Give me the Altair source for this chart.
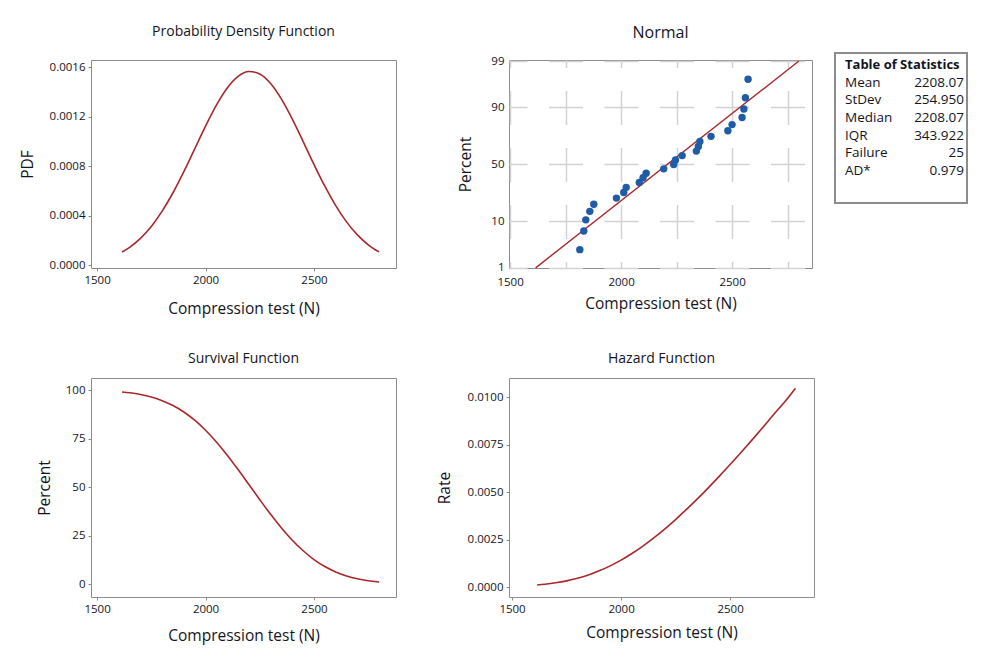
import altair as alt
import pandas as pd
from statistics import NormalDist

# ---------------- data ----------------
x_curve = [1615, 1650, 1700, 1750, 1800, 1850, 1900, 1950, 2000, 2050, 2100, 2150, 2200,
           2250, 2300, 2350, 2400, 2450, 2500, 2550, 2600, 2650, 2700, 2750, 2800]
pdf_vals = [0.0001046, 0.0001427, 0.0002150, 0.0003117, 0.0004349, 0.0005839, 0.0007543,
            0.0009377, 0.0011218, 0.0012913, 0.0014304, 0.0015248, 0.0015640, 0.0015438,
            0.0014663, 0.0013401, 0.0011786, 0.0009975, 0.0008124, 0.0006366, 0.0004801,
            0.0003484, 0.0002433, 0.0001635, 0.0001057]
surv_vals = [99.0, 98.57, 97.68, 96.38, 94.52, 91.99, 88.65, 84.42, 79.27, 73.23, 66.41,
             59.00, 51.26, 43.47, 35.92, 28.89, 22.58, 17.13, 12.61, 8.99, 6.21, 4.15,
             2.68, 1.68, 1.01]
hazard_vals = [0.000106, 0.000145, 0.000220, 0.000323, 0.000460, 0.000635, 0.000851,
               0.001111, 0.001415, 0.001763, 0.002154, 0.002584, 0.003051, 0.003551,
               0.004082, 0.004639, 0.005220, 0.005823, 0.006443, 0.007081, 0.007731,
               0.008395, 0.009078, 0.009732, 0.010465]

obs_x = [1814, 1832, 1841, 1859, 1877, 1979, 2012, 2023, 2082, 2099, 2113, 2192, 2237,
         2245, 2275, 2339, 2348, 2355, 2405, 2481, 2500, 2545, 2553, 2560, 2572]
obs_pct = [2.76, 6.69, 10.63, 14.57, 18.50, 22.44, 26.38, 30.31, 34.25, 38.19, 42.13,
           46.06, 50.00, 53.94, 57.87, 61.81, 65.75, 69.69, 73.62, 77.56, 81.50, 85.43,
           89.37, 93.31, 97.24]
fit_x = [1615, 2801]
fit_pct = [1, 99]

prob_ticks = [1, 10, 50, 90, 99]
x_ticks = [1500, 2000, 2500]
x_grid = [1500, 1750, 2000, 2250, 2500, 2750]
pdf_ticks = [0.0, 0.0004, 0.0008, 0.0012, 0.0016]
surv_ticks = [0, 25, 50, 75, 100]
haz_ticks = [0.0, 0.0025, 0.0050, 0.0075, 0.0100]

stat_title = ["Table of Statistics"]
stat_names = ["Mean", "StDev", "Median", "IQR", "Failure", "AD*"]
stat_values = ["2208.07", "254.950", "2208.07", "343.922", "25", "0.979"]

# ---------------- styling ----------------
RED = "#a8282b"
BLUE = "#1f5ca8"
FRAME = "#8c8c8c"
TXT = "#14141e"
XTITLE = "Compression test (N)"

curve_df = pd.DataFrame({"x": x_curve, "pdf": pdf_vals, "surv": surv_vals, "haz": hazard_vals})
obs_df = pd.DataFrame({"x": obs_x, "pct": obs_pct})
fit_df = pd.DataFrame({"x": fit_x, "pct": fit_pct})
title_df = pd.DataFrame({"row": [0], "t": stat_title})
stat_df = pd.DataFrame({"row": list(range(1, len(stat_names) + 1)), "name": stat_names, "val": stat_values})

z_ticks = [NormalDist().inv_cdf(p / 100) for p in prob_ticks]


def xaxis(title_y):
    return alt.Axis(values=x_ticks, format="d", title=XTITLE, titleY=title_y,
                    titleBaseline="middle", labelPadding=3)


def panel_title(text, size, offset):
    return alt.TitleParams(text=text, fontSize=size, offset=offset, frame="group",
                           anchor="middle", fontWeight="normal", color=TXT)


# PDF panel
pdf_chart = alt.Chart(curve_df).mark_line(color=RED, strokeWidth=1.6, interpolate="monotone").encode(
    x=alt.X("x:Q", scale=alt.Scale(domain=[1472, 2878], nice=False, zero=False), axis=xaxis(40)),
    y=alt.Y("pdf:Q", scale=alt.Scale(domain=[-0.0000242, 0.0016566], nice=False, zero=False),
            axis=alt.Axis(values=pdf_ticks, format=".4f", title="PDF", titleX=-64,
                          titleBaseline="middle", labelPadding=3)),
).properties(width=305, height=208, title=panel_title("Probability Density Function", 14, 21))

# Normal probability plot panel
xn = alt.X("x:Q", scale=alt.Scale(domain=[1495, 2860], nice=False, zero=False),
           axis=alt.Axis(values=x_grid,
                         labelExpr="datum.value % 500 == 0 ? format(datum.value, 'd') : ''",
                         ticks=False, labelPadding=8, title=XTITLE, titleY=35, titleBaseline="middle",
                         grid=True, gridColor="#d2d2d2", gridWidth=1.5, gridDash=[34, 23],
                         gridDashOffset=26.5))
yn = alt.Y("z:Q", scale=alt.Scale(domain=[-2.33, 2.35], nice=False, zero=False),
           axis=alt.Axis(values=z_ticks,
                         labelExpr="format(cumulativeNormal(datum.value) * 100, '.0f')",
                         ticks=False, labelPadding=5, title="Percent", titleX=-44,
                         titleBaseline="middle",
                         grid=True, gridColor="#d2d2d2", gridWidth=1.5, gridDash=[34, 21.5],
                         gridDashOffset=16))

fit_line = alt.Chart(fit_df).transform_calculate(z="quantileNormal(datum.pct / 100)").mark_line(
    color=RED, strokeWidth=1.4).encode(x=xn, y=yn)
obs_pts = alt.Chart(obs_df).transform_calculate(z="quantileNormal(datum.pct / 100)").mark_point(
    filled=True, size=55, color=BLUE, opacity=1).encode(x=xn, y=yn)

row_scale = alt.Scale(domain=[-0.301, 11.517], nice=False, zero=False, reverse=True)
tbl_box = alt.Chart(title_df).mark_rect(fillOpacity=0, stroke=FRAME, strokeWidth=2).encode(
    x=alt.value(326), x2=alt.value(458), y=alt.value(-7), y2=alt.value(143))
tbl_title = alt.Chart(title_df).mark_text(align="left", baseline="middle", fontSize=13,
                                          fontWeight="bold", color=TXT).encode(
    x=alt.value(336), y=alt.Y("row:Q", scale=row_scale, axis=None), text="t:N")
tbl_names = alt.Chart(stat_df).mark_text(align="left", baseline="middle", fontSize=13.5,
                                         color=TXT).encode(
    x=alt.value(336), y=alt.Y("row:Q", scale=row_scale, axis=None), text="name:N")
tbl_vals = alt.Chart(stat_df).mark_text(align="right", baseline="middle", fontSize=13.5,
                                        color=TXT).encode(
    x=alt.value(455), y=alt.Y("row:Q", scale=row_scale, axis=None), text="val:N")

normal_chart = alt.layer(
    alt.layer(fit_line, obs_pts),
    tbl_box, tbl_title, tbl_names, tbl_vals,
).resolve_scale(y="independent").properties(
    width=303, height=208, title=panel_title("Normal", 16, 11))

# Survival panel
surv_chart = alt.Chart(curve_df).mark_line(color=RED, strokeWidth=1.6, interpolate="monotone").encode(
    x=alt.X("x:Q", scale=alt.Scale(domain=[1472, 2878], nice=False, zero=False), axis=xaxis(38)),
    y=alt.Y("surv:Q", scale=alt.Scale(domain=[-6.70, 106.19], nice=False, zero=False),
            axis=alt.Axis(values=surv_ticks, format="d", title="Percent", titleX=-47,
                          titleBaseline="middle", labelPadding=3)),
).properties(width=305, height=219, title=panel_title("Survival Function", 14, 12))

# Hazard panel
haz_chart = alt.Chart(curve_df).mark_line(color=RED, strokeWidth=1.6, interpolate="monotone").encode(
    x=alt.X("x:Q", scale=alt.Scale(domain=[1486, 2885], nice=False, zero=False), axis=xaxis(35)),
    y=alt.Y("haz:Q", scale=alt.Scale(domain=[-0.000526, 0.0110], nice=False, zero=False),
            axis=alt.Axis(values=haz_ticks, format=".4f", title="Rate", titleX=-65,
                          titleBaseline="middle", labelPadding=3)),
).properties(width=305, height=219, title=panel_title("Hazard Function", 14, 12))

chart = alt.concat(
    pdf_chart, normal_chart, surv_chart, haz_chart,
    columns=2, spacing={"row": 110, "column": 113}, bounds="flush",
).properties(
    padding={"left": 11, "top": 16, "right": 5, "bottom": 5},
).configure(
    font="Open Sans",
).configure_view(
    stroke=FRAME, strokeWidth=1,
).configure_axis(
    domain=False, grid=False, tickSize=3, tickColor=FRAME,
    labelFontSize=11.5, labelColor=TXT, titleFontSize=15.5, titleFontWeight="normal",
    titleColor=TXT,
)

chart.save("out.html", embed_options={"renderer": "svg", "actions": False})
